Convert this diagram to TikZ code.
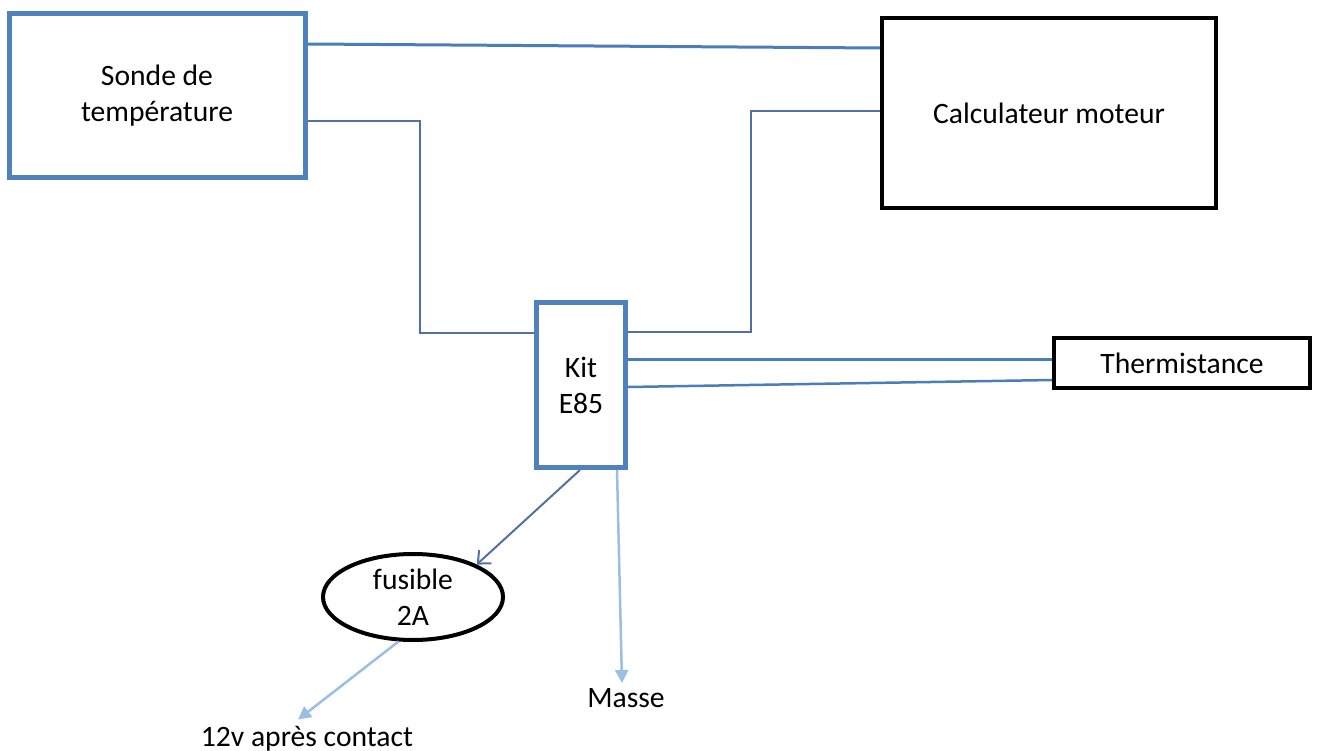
\documentclass[tikz,border=0pt]{standalone}
\usepackage{fontspec}
\setmainfont{Carlito}
\usetikzlibrary{shapes.geometric,arrows.meta}
\definecolor{boxblue}{HTML}{4F81BD}
\definecolor{wireblue}{HTML}{4A7EBB}
\definecolor{thinblue}{RGB}{84,112,160}
\definecolor{lightblue}{HTML}{9BBEE3}
\tikzset{
  txt/.style={font=\fontsize{29.6}{36}\selectfont, align=center, text=black},
  bluebox/.style={txt, draw=boxblue, line width=5pt, rectangle, inner sep=0pt},
  blackbox/.style={txt, draw=black, line width=4pt, rectangle, inner sep=0pt},
  fuseshape/.style={txt, draw=black, line width=4pt, ellipse, inner sep=0pt},
  lbl/.style={txt, inner sep=0pt},
  thickwire/.style={draw=wireblue, line width=3pt},
  thinwire/.style={draw=thinblue, line width=2pt},
  darkarrow/.style={draw=thinblue, line width=2pt, -{Straight Barb[length=10pt,width=18pt,line width=2pt]}},
  lightarrow/.style={draw=lightblue, line width=2.5pt, -{Triangle[length=13pt,width=13pt]}},
}
\begin{document}
\begin{tikzpicture}[x=1pt,y=-1pt]
\useasboundingbox (0,0) rectangle (1324,751);
\node[bluebox, minimum width=296pt, minimum height=164pt] (sonde) at (157,96) {Sonde de\\température};
\node[blackbox, minimum width=334pt, minimum height=190pt] (calc) at (1049,113) {Calculateur moteur};
\node[bluebox, minimum width=89pt, minimum height=165pt] (kit) at (581,385) {Kit\\E85};
\node[blackbox, minimum width=256pt, minimum height=50pt] (therm) at (1182,363) {Thermistance};
\node[fuseshape, minimum width=180pt, minimum height=86pt] (fuse) at (413,597) {fusible\\2A};
\node[lbl, anchor=north] (masse) at (626,688) {Masse};
\node[lbl, anchor=base] (v12) at (307,746) {12v après contact};

\draw[thickwire] ([yshift=52pt]sonde.east) -- ([yshift=65pt]calc.west);
\draw[thinwire] ([yshift=-25pt]sonde.east) -| ([xshift=-114.5pt,yshift=52pt]kit.west) -- ([yshift=52pt]kit.west);
\draw[thinwire] ([yshift=53pt]kit.east) -| ([xshift=-129pt,yshift=2pt]calc.west) -- ([yshift=2pt]calc.west);
\draw[thickwire] ([yshift=26pt]kit.east) -- ([yshift=4pt]therm.west);
\draw[thickwire, line width=2.5pt] ([yshift=-2pt]kit.east) -- ([yshift=-17pt]therm.west);
\draw[darkarrow] ([xshift=-1pt]kit.south) -- (fuse.27);
\draw[lightarrow] ([xshift=36pt]kit.south) -- ([xshift=-4pt,yshift=5pt]masse.north);
\draw[lightarrow] (fuse.-108) -- ([xshift=-9pt,yshift=6pt]v12.north);
\end{tikzpicture}
\end{document}
